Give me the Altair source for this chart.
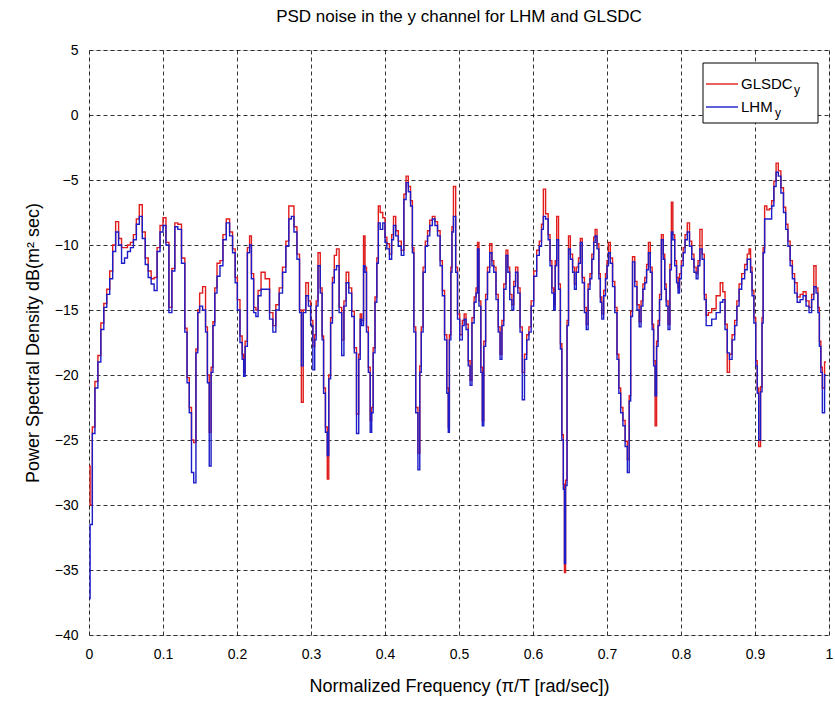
import altair as alt
import pandas as pd

# Normalized frequency samples
freq = [0.000,0.003,0.006,0.010,0.014,0.018,0.022,0.026,0.030,0.034,0.038,0.042,0.046,0.050,0.054,0.058,0.062,0.066,0.070,0.074,
0.078,0.082,0.086,0.090,0.094,0.098,0.102,0.106,0.110,0.114,0.118,0.122,0.128,0.131,0.134,0.137,0.140,0.143,0.146,0.148,
0.151,0.156,0.159,0.161,0.164,0.166,0.169,0.171,0.175,0.179,0.183,0.188,0.192,0.196,0.199,0.202,0.206,0.208,0.210,0.212,
0.216,0.218,0.221,0.224,0.227,0.230,0.235,0.241,0.247,0.250,0.255,0.259,0.264,0.268,0.272,0.275,0.279,0.283,0.286,0.288,
0.291,0.295,0.298,0.301,0.304,0.306,0.308,0.311,0.314,0.316,0.318,0.321,0.323,0.325,0.328,0.330,0.333,0.336,0.340,0.343,
0.346,0.349,0.353,0.357,0.360,0.363,0.366,0.367,0.370,0.372,0.374,0.376,0.379,0.381,0.383,0.385,0.388,0.390,0.392,0.395,
0.399,0.401,0.404,0.408,0.410,0.413,0.416,0.420,0.424,0.427,0.430,0.433,0.436,0.438,0.440,0.443,0.446,0.448,0.450,0.453,
0.456,0.459,0.462,0.466,0.469,0.473,0.476,0.479,0.482,0.485,0.486,0.488,0.490,0.491,0.494,0.497,0.499,0.503,0.506,0.508,
0.511,0.514,0.516,0.519,0.522,0.524,0.526,0.528,0.531,0.532,0.535,0.537,0.540,0.543,0.546,0.548,0.552,0.554,0.557,0.559,
0.562,0.565,0.567,0.570,0.573,0.575,0.578,0.581,0.584,0.587,0.590,0.593,0.596,0.599,0.603,0.607,0.610,0.613,0.615,0.619,
0.622,0.624,0.627,0.629,0.631,0.633,0.636,0.638,0.640,0.642,0.643,0.645,0.647,0.649,0.652,0.655,0.657,0.660,0.663,0.665,
0.668,0.671,0.673,0.676,0.678,0.681,0.683,0.685,0.688,0.690,0.692,0.694,0.697,0.699,0.701,0.703,0.706,0.709,0.712,0.715,
0.717,0.720,0.723,0.726,0.729,0.731,0.733,0.736,0.739,0.742,0.745,0.747,0.750,0.752,0.755,0.757,0.760,0.762,0.764,0.766,
0.768,0.770,0.772,0.775,0.777,0.779,0.781,0.784,0.786,0.788,0.790,0.793,0.795,0.797,0.799,0.802,0.804,0.807,0.810,0.813,
0.816,0.819,0.822,0.824,0.827,0.830,0.833,0.835,0.839,0.844,0.851,0.855,0.858,0.861,0.864,0.867,0.871,0.874,0.877,0.880,
0.884,0.888,0.891,0.893,0.895,0.897,0.900,0.902,0.904,0.906,0.909,0.910,0.912,0.914,0.918,0.921,0.924,0.927,0.930,0.933,
0.937,0.940,0.943,0.946,0.949,0.952,0.955,0.959,0.963,0.967,0.971,0.975,0.978,0.981,0.984,0.986,0.988,0.990,0.992,0.996]

lhm = [-37.2,-31.5,-24.5,-21.0,-19.0,-16.5,-14.8,-13.8,-12.6,-10.5,-9.0,-10.0,-11.4,-11.0,-10.5,-10.2,-9.6,-8.4,-7.8,-9.5,
-11.5,-12.5,-13.0,-13.5,-10.5,-9.0,-8.5,-10.0,-15.2,-12.0,-8.6,-8.8,-11.4,-16.7,-20.6,-22.9,-27.5,-28.3,-18.3,-15.2,
-14.7,-15.0,-16.7,-20.6,-27.0,-19.8,-16.2,-13.7,-12.4,-11.6,-9.6,-8.3,-9.3,-10.6,-12.9,-15.0,-17.5,-18.8,-20.1,-17.8,
-10.6,-10.0,-12.6,-15.2,-15.5,-13.9,-13.4,-13.4,-15.7,-16.7,-15.0,-13.7,-12.1,-10.1,-8.0,-7.8,-9.0,-11.1,-15.2,-19.3,
-15.2,-13.9,-14.7,-16.2,-19.6,-17.3,-14.7,-11.6,-13.7,-17.3,-21.4,-24.4,-26.2,-20.3,-16.0,-12.9,-11.9,-11.6,-15.2,-18.5,
-14.7,-12.9,-13.7,-15.5,-18.3,-24.5,-18.8,-15.7,-16.2,-11.6,-12.1,-16.7,-19.8,-24.4,-22.9,-18.3,-14.4,-11.4,-8.3,-8.8,
-8.3,-9.8,-10.3,-11.1,-9.6,-8.5,-9.3,-10.1,-10.8,-6.5,-5.2,-5.9,-7.0,-10.6,-16.7,-22.9,-27.3,-19.8,-16.7,-12.1,
-10.1,-9.3,-8.5,-8.0,-8.5,-9.3,-11.6,-13.9,-17.3,-21.4,-24.4,-17.3,-12.1,-9.0,-7.8,-12.1,-15.7,-17.3,-16.2,-15.7,
-16.5,-19.3,-20.8,-16.0,-14.4,-13.7,-10.3,-14.7,-19.8,-23.9,-17.8,-14.2,-12.1,-10.6,-11.6,-12.1,-14.2,-16.7,-18.8,-16.2,
-13.4,-10.8,-12.1,-14.2,-15.0,-13.2,-12.1,-13.7,-16.7,-21.9,-18.8,-17.3,-16.7,-14.7,-12.4,-10.8,-10.1,-8.8,-7.8,-8.0,
-9.6,-11.6,-13.7,-15.0,-11.6,-9.6,-13.4,-18.0,-25.0,-28.8,-34.5,-28.5,-16.2,-10.3,-11.1,-12.1,-13.4,-12.1,-11.4,-9.8,
-12.9,-15.2,-16.5,-13.4,-12.6,-11.1,-9.8,-9.3,-10.3,-12.6,-14.4,-15.7,-13.9,-12.6,-11.6,-10.6,-11.4,-13.2,-15.2,-18.8,
-21.4,-22.9,-23.9,-25.5,-27.5,-22.0,-15.5,-11.3,-13.2,-15.0,-16.3,-14.7,-13.4,-12.9,-11.9,-10.6,-12.1,-16.5,-19.3,-21.6,
-17.8,-16.2,-14.2,-9.6,-11.1,-13.4,-14.7,-16.5,-11.9,-9.0,-9.6,-11.6,-12.9,-13.7,-12.6,-11.6,-10.6,-9.6,-9.0,-10.1,
-11.1,-12.1,-12.6,-11.6,-10.3,-11.1,-14.2,-16.2,-16.2,-15.7,-15.2,-14.4,-14.2,-16.5,-18.3,-18.8,-17.3,-16.2,-14.7,-13.4,
-12.6,-11.9,-11.1,-11.1,-12.1,-13.9,-16.0,-19.3,-21.4,-25.0,-21.3,-16.0,-10.6,-8.0,-8.0,-8.0,-7.0,-5.5,-4.4,-4.7,
-6.0,-7.5,-8.8,-10.1,-11.6,-12.6,-13.7,-14.4,-14.2,-13.9,-14.7,-15.2,-14.2,-13.2,-13.7,-15.2,-17.8,-19.8,-22.9,-20.0]

glsdc = [-27.0,-30.0,-24.0,-20.5,-18.5,-16.0,-14.5,-13.4,-12.0,-10.0,-8.2,-9.5,-10.2,-10.2,-10.0,-9.8,-9.2,-8.0,-6.9,-9.0,
-11.0,-12.0,-12.6,-12.5,-10.2,-8.5,-7.9,-9.8,-14.8,-11.8,-8.3,-8.4,-11.0,-16.4,-20.2,-22.5,-25.0,-25.2,-18.0,-15.0,
-13.7,-13.2,-16.3,-20.0,-24.4,-19.4,-15.9,-13.3,-11.4,-11.2,-9.2,-8.0,-9.0,-10.3,-12.5,-14.2,-17.0,-18.4,-19.8,-17.4,
-10.2,-9.3,-12.2,-14.8,-15.0,-13.5,-12.1,-12.6,-15.2,-16.2,-14.6,-13.3,-11.7,-9.7,-7.0,-7.0,-8.6,-10.7,-15.0,-22.1,
-15.0,-12.9,-14.3,-15.8,-17.8,-16.9,-14.3,-10.6,-13.3,-17.0,-21.0,-24.0,-28.0,-20.0,-15.6,-12.5,-10.8,-10.3,-14.8,-17.3,
-14.3,-12.1,-13.3,-15.1,-17.9,-23.0,-18.4,-15.3,-15.8,-9.3,-11.7,-16.3,-19.4,-23.5,-22.5,-17.9,-14.0,-11.0,-7.0,-7.5,
-7.9,-9.4,-9.9,-10.7,-9.2,-7.8,-8.9,-9.7,-10.4,-6.1,-4.7,-5.5,-6.6,-10.2,-16.3,-22.5,-26.0,-19.3,-16.3,-11.7,
-9.7,-8.9,-8.1,-7.8,-8.2,-8.9,-11.2,-13.5,-16.9,-21.0,-24.0,-16.9,-11.7,-8.6,-5.5,-11.7,-15.3,-16.9,-15.8,-15.3,
-16.1,-18.9,-20.4,-15.6,-14.0,-13.3,-9.8,-14.3,-19.4,-23.5,-17.4,-13.8,-11.7,-9.9,-11.2,-11.7,-13.8,-16.3,-18.4,-15.8,
-13.0,-10.4,-11.7,-13.8,-14.6,-12.8,-11.7,-13.3,-16.3,-19.8,-18.4,-16.9,-16.3,-14.3,-12.0,-10.4,-9.7,-8.4,-5.7,-7.6,
-9.2,-11.2,-13.3,-14.6,-11.2,-7.8,-13.0,-17.6,-24.6,-28.4,-35.2,-28.1,-15.8,-9.3,-10.7,-11.7,-13.0,-11.7,-11.0,-9.5,
-12.5,-14.8,-16.1,-13.0,-12.2,-10.7,-9.4,-8.8,-9.9,-12.2,-14.0,-15.3,-13.5,-12.2,-11.2,-9.8,-11.0,-12.8,-14.8,-18.4,
-21.0,-22.5,-23.5,-25.1,-26.5,-21.6,-15.1,-10.9,-12.8,-14.6,-15.9,-14.3,-13.0,-12.5,-11.5,-9.8,-11.7,-16.1,-18.9,-23.9,
-17.4,-15.8,-13.8,-9.2,-10.7,-13.0,-14.3,-16.1,-11.5,-6.7,-9.2,-11.2,-12.5,-13.3,-12.2,-11.2,-10.2,-9.2,-8.3,-9.7,
-10.7,-11.7,-12.2,-11.2,-8.8,-10.7,-13.8,-15.4,-15.2,-14.9,-13.9,-12.9,-13.6,-16.1,-19.8,-18.4,-16.9,-15.8,-14.3,-13.0,
-12.2,-11.5,-10.7,-10.3,-11.7,-13.5,-15.6,-18.9,-21.0,-25.5,-20.9,-15.6,-10.2,-7.0,-7.3,-7.2,-6.6,-5.1,-3.7,-4.3,
-5.6,-7.1,-8.4,-9.7,-11.2,-12.2,-12.9,-14.0,-13.8,-13.6,-14.3,-14.8,-13.8,-11.6,-13.3,-14.8,-17.4,-19.4,-21.0,-19.0]

legend_names = ["GLSDC", "LHM"]
legend_sub = ["y", "y"]
colors = ["#e01c1c", "#1c1cc8"]

x_ticks = [0, 0.1, 0.2, 0.3, 0.4, 0.5, 0.6, 0.7, 0.8, 0.9, 1]
y_ticks = [-40, -35, -30, -25, -20, -15, -10, -5, 0, 5]

df = pd.DataFrame({"freq": freq, "LHM": lhm, "GLSDC": glsdc})

FONT = "Liberation Sans"
W, H = 740, 585

xscale = alt.Scale(domain=[0, 1], nice=False, zero=False)
yscale = alt.Scale(domain=[-40, 5], nice=False, zero=False)

xaxis = alt.Axis(values=x_ticks, format="~g", grid=True, gridColor="black", gridDash=[4, 3],
                 gridOpacity=1, gridWidth=0.8, ticks=False, domain=False, labelFont=FONT,
                 labelFontSize=14, labelColor="black", labelPadding=12, labelFlush=False,
                 title="Normalized Frequency (π/T [rad/sec])", titleFont=FONT, titleFontSize=18,
                 titleFontWeight="normal", titleColor="black", titlePadding=16)
yaxis = alt.Axis(values=y_ticks, grid=True, gridColor="black", gridDash=[4, 3],
                 gridOpacity=1, gridWidth=0.8, ticks=False, domain=False, labelFont=FONT,
                 labelFontSize=14, labelColor="black", labelPadding=11,
                 title="Power Spectral Density dB(m² sec)", titleFont=FONT, titleFontSize=18,
                 titleFontWeight="normal", titleColor="black", titlePadding=12)

base = alt.Chart(df)
red = base.mark_line(color=colors[0], strokeWidth=1.4, interpolate="step").encode(
    x=alt.X("freq:Q", scale=xscale, axis=xaxis),
    y=alt.Y("GLSDC:Q", scale=yscale, axis=yaxis),
)
blue = base.mark_line(color=colors[1], strokeWidth=1.4, interpolate="step").encode(
    x=alt.X("freq:Q", scale=xscale),
    y=alt.Y("LHM:Q", scale=yscale),
)

# Legend box (MATLAB style), positioned in pixels inside the plot area
layers = [red, blue]
layers.append(alt.Chart(pd.DataFrame({"k": [0]})).mark_rect(
    fill="white", stroke="black", strokeWidth=1).encode(
    x=alt.value(614), x2=alt.value(729), y=alt.value(13), y2=alt.value(73)))
row_y = [34, 57]
sub_x = [705, 686]
for i in range(len(legend_names)):
    d = pd.DataFrame({"name": [legend_names[i]], "sub": [legend_sub[i]]})
    layers.append(alt.Chart(d).mark_rule(color=colors[i], strokeWidth=1.4).encode(
        x=alt.value(617), x2=alt.value(649), y=alt.value(row_y[i])))
    layers.append(alt.Chart(d).mark_text(align="left", baseline="middle", font=FONT,
                                         fontSize=15, color="black").encode(
        x=alt.value(652), y=alt.value(row_y[i]), text="name:N"))
    layers.append(alt.Chart(d).mark_text(align="left", baseline="middle", font=FONT,
                                         fontSize=12, color="black").encode(
        x=alt.value(sub_x[i]), y=alt.value(row_y[i] + 6), text="sub:N"))

chart = alt.layer(*layers).properties(
    width=W, height=H,
    title=alt.TitleParams("PSD noise in the y channel for LHM and GLSDC", font=FONT, fontSize=17,
                          fontWeight="normal", color="black", offset=17, anchor="middle"),
    padding={"left": 89, "top": 50, "right": 6, "bottom": 78},
    autosize=alt.AutoSizeParams(type="none"),
).configure_view(stroke="black", strokeWidth=1).configure(background="white")

chart.save("out.html", embed_options={"renderer": "svg", "actions": False})
